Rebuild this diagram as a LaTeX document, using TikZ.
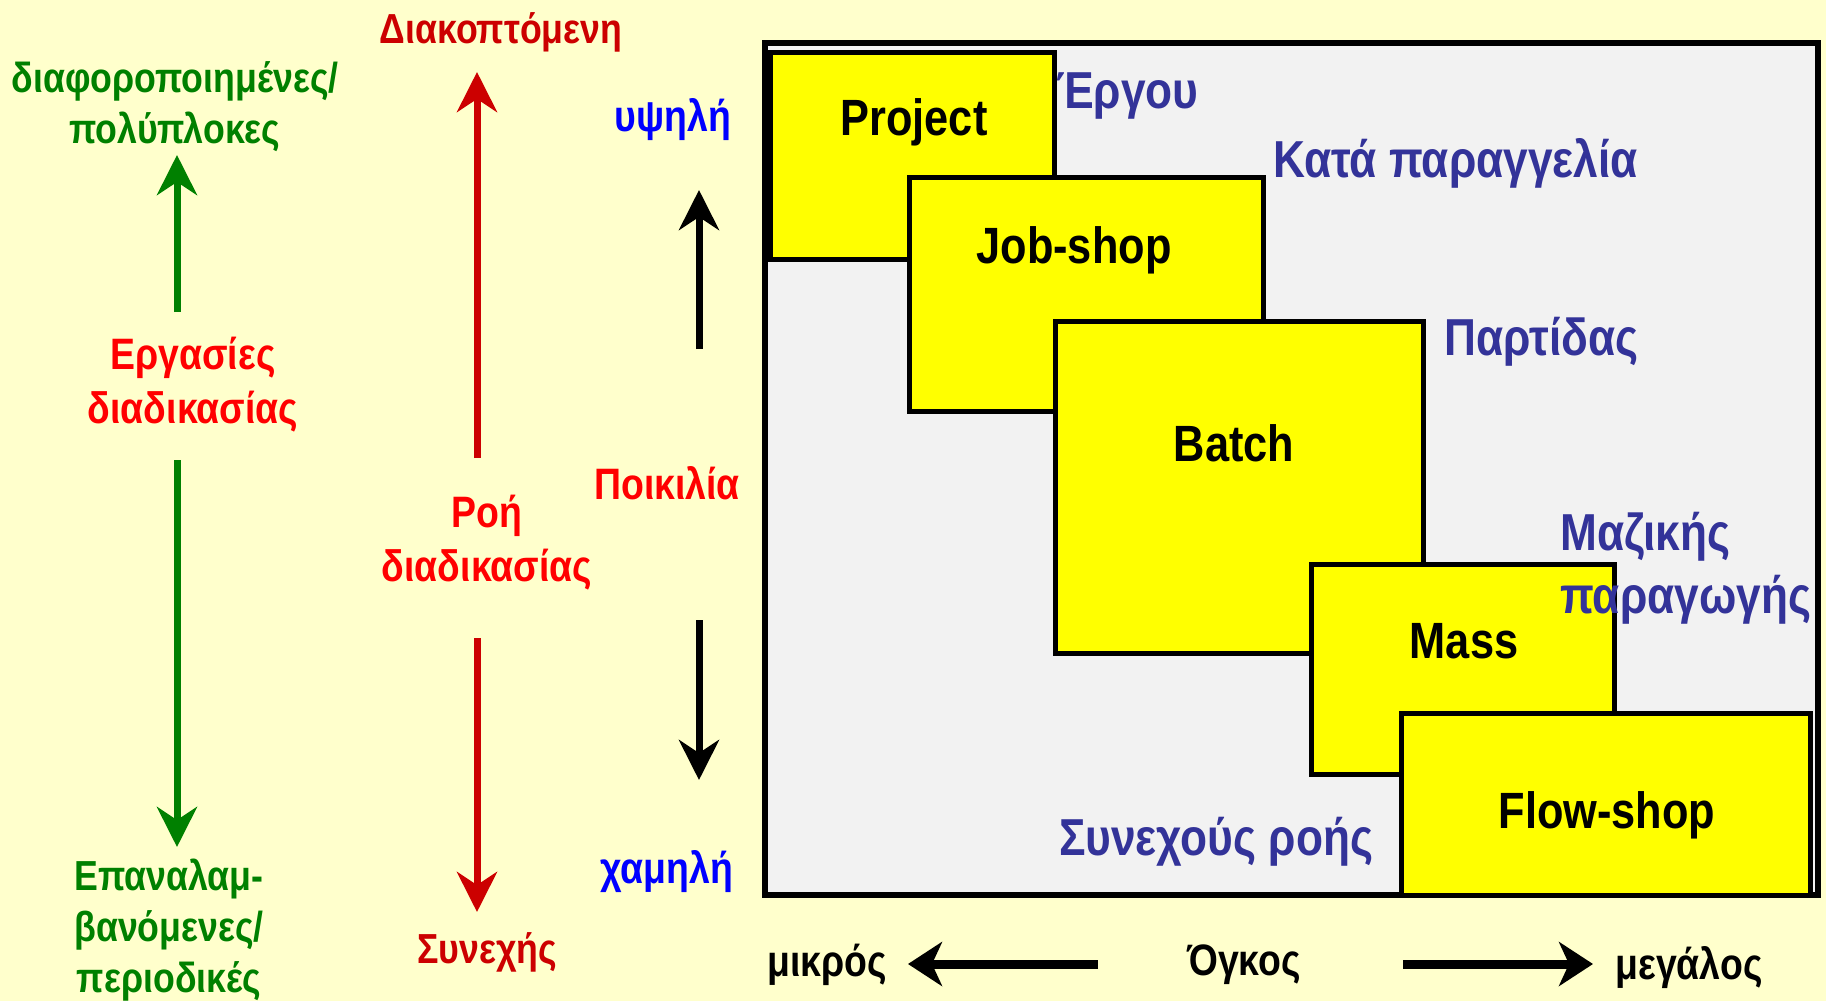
\documentclass[tikz,border=0pt]{standalone}
\usepackage{fontspec}
\setmainfont{Liberation Sans}[FakeStretch=0.85]
\usetikzlibrary{arrows.meta}
\definecolor{bgcream}{HTML}{FFFFCC}
\definecolor{panelgray}{HTML}{F2F2F2}
\definecolor{boxyellow}{HTML}{FFFF00}
\definecolor{leafgreen}{HTML}{008000}
\definecolor{darkred}{HTML}{CC0000}
\definecolor{brightred}{HTML}{FF0000}
\definecolor{navyblue}{HTML}{333399}
\definecolor{pureblue}{HTML}{0000FF}
\tikzset{
  textbase/.style={inner sep=0pt, yshift=-3.5pt},
  lbl/.style={textbase, font=\bfseries\fontsize{44}{54}\selectfont, align=center},
  smalllbl/.style={textbase, font=\bfseries\fontsize{42}{51}\selectfont, align=center},
  boxlbl/.style={textbase, font=\bfseries\fontsize{51}{60}\selectfont},
  typelbl/.style={textbase, font=\bfseries\fontsize{52}{63}\selectfont, navyblue, align=left},
  procbox/.style={draw=black, line width=5pt, fill=boxyellow},
  varrow/.style={line width=7pt, -{Stealth[length=40pt, width=40pt, inset=13pt]}},
  harrow/.style={line width=9pt, -{Stealth[length=34pt, width=44pt, inset=10pt]}},
}
\begin{document}
\begin{tikzpicture}[x=1pt, y=-1pt]
  \fill[bgcream] (0,0) rectangle (1826,1001);
  \useasboundingbox (0,0) rectangle (1826,1001);

  % panel holding the process types
  \draw[line width=6pt, fill=panelgray] (765,43) rectangle (1818,895);

  % overlapping process boxes
  \draw[procbox] (770,52) rectangle (1054,259);
  \draw[procbox] (909,177) rectangle (1263,411);
  \draw[procbox] (1055,321) rectangle (1423,653);
  \draw[procbox] (1311,564) rectangle (1614,774);
  \draw[procbox] (1401,713) rectangle (1810,895);

  \node[boxlbl] (project) at (914,119) {Project};
  \node[boxlbl] (jobshop) at (1074,247) {Job-shop};
  \node[boxlbl] (batch) at (1234,440) {Batch};
  \node[boxlbl] (mass) at (1464,638) {Mass};
  \node[boxlbl] (flowshop) at (1607,812) {Flow-shop};

  % names of the process types
  \node[typelbl, anchor=west] (ergou) at (1056,92) {Έργου};
  \node[typelbl, anchor=west] (kata) at (1273,160) {Κατά παραγγελία};
  \node[typelbl, anchor=west] (partidas) at (1444,338) {Παρτίδας};
  \node[typelbl, anchor=west] (maziki) at (1560,565) {Μαζικής\\παραγωγής};
  \node[typelbl] (synexous) at (1216,838) {Συνεχούς ροής};

  % left column: job processes
  \node[smalllbl, leafgreen] (diaf) at (175,103) {διαφοροποιημένες/\\πολύπλοκες};
  \node[lbl, brightred] (ergasies) at (193,381) {Εργασίες\\διαδικασίας};
  \node[smalllbl, leafgreen] (epanal) at (169,927) {Επαναλαμ-\\βανόμενες/\\περιοδικές};
  \coordinate (g1) at (177,312);
  \coordinate (g2) at (177,155);
  \coordinate (g3) at (177,460);
  \coordinate (g4) at (177,847);
  \draw[varrow, leafgreen] (g1) -- (g2);
  \draw[varrow, leafgreen] (g3) -- (g4);

  % middle column: process flow
  \node[smalllbl, darkred] (diakopt) at (501,29) {Διακοπτόμενη};
  \node[lbl, brightred] (roi) at (487,539) {Ροή\\διαδικασίας};
  \node[smalllbl, darkred] (synexis) at (487,949) {Συνεχής};
  \coordinate (r1) at (477,458);
  \coordinate (r2) at (477,72);
  \coordinate (r3) at (477,638);
  \coordinate (r4) at (477,912);
  \draw[varrow, darkred] (r1) -- (r2);
  \draw[varrow, darkred] (r3) -- (r4);

  % variety axis
  \node[lbl, pureblue] (ypsili) at (673,116) {υψηλή};
  \node[lbl, brightred] (poikilia) at (667,480) {Ποικιλία};
  \node[lbl, pureblue] (xamili) at (667,868) {χαμηλή};
  \coordinate (k1) at (699,349);
  \coordinate (k2) at (699,190);
  \coordinate (k3) at (699,620);
  \coordinate (k4) at (699,780);
  \draw[varrow, black] (k1) -- (k2);
  \draw[varrow, black] (k3) -- (k4);

  % volume axis
  \node[lbl] (mikros) at (827,961) {μικρός};
  \node[lbl] (ogkos) at (1244,961) {Όγκος};
  \node[lbl] (megalos) at (1689,964) {μεγάλος};
  \coordinate (v1) at (1098,964);
  \coordinate (v2) at (908,964);
  \coordinate (v3) at (1403,964);
  \coordinate (v4) at (1593,964);
  \draw[harrow] (v1) -- (v2);
  \draw[harrow] (v3) -- (v4);
\end{tikzpicture}
\end{document}
